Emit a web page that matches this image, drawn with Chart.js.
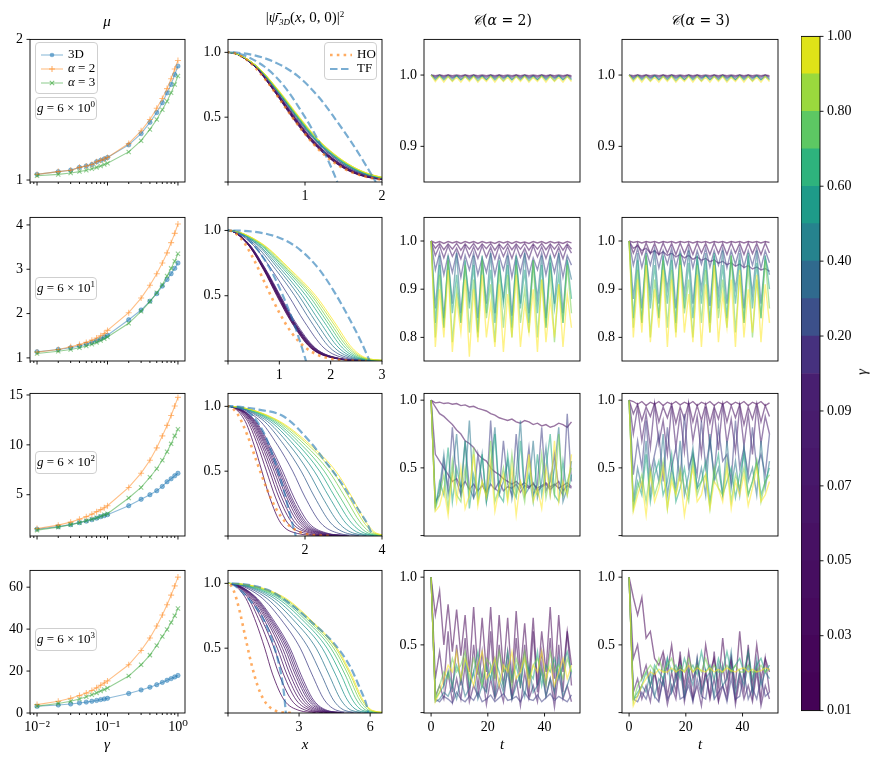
<!DOCTYPE html>
<html>
<head>
<meta charset="utf-8" />
<title>Mu, density profiles and correlations</title>
<script src="https://cdn.jsdelivr.net/npm/chart.js@4.4.0/dist/chart.umd.min.js"></script>
<style>
	body { margin: 0; background: #fff; }
	#fig { position: relative; width: 872px; height: 763px; font-family: 'Liberation Serif', 'DejaVu Serif', serif; color: #000; }
	#fig canvas { position: absolute; }
	.lbl { position: absolute; font-size: 15px; white-space: nowrap; transform: translate(-50%, -50%); z-index: 3; }
	.box { position: absolute; border: 1px solid #cfcfcf; border-radius: 4px; background: rgba(255,255,255,0.85); font-size: 13px; z-index: 3; box-sizing: border-box; }
	.li { position: absolute; left: 4px; height: 14px; line-height: 14px; white-space: nowrap; }
	.li svg { vertical-align: middle; margin-right: 4px; }
	.gbox { text-align: center; line-height: 20px; white-space: nowrap; }
	sup { font-size: 9px; vertical-align: 5px; line-height: 0; }
	sub { font-size: 9px; vertical-align: -3px; line-height: 0; margin-left: 1px; }
</style>
</head>
<body>
<div id="fig"></div>
<script>
// ---- data ----
var gammas = [0.01,0.02,0.03,0.04,0.05,0.06,0.07,0.08,0.09,0.1,0.2,0.3,0.4,0.5,0.6,0.7,0.8,0.9,1.0];

// chemical potential mu(gamma), one array per g row
var mu3D_1 = [1.04,1.06,1.07,1.09,1.10,1.11,1.13,1.14,1.15,1.16,1.25,1.33,1.41,1.48,1.55,1.62,1.68,1.75,1.81];
var muA2_1 = [1.04,1.06,1.07,1.09,1.10,1.11,1.13,1.14,1.15,1.16,1.26,1.35,1.43,1.51,1.58,1.65,1.72,1.79,1.85];
var muA3_1 = [1.03,1.04,1.05,1.06,1.07,1.08,1.09,1.10,1.11,1.12,1.20,1.28,1.36,1.43,1.50,1.56,1.62,1.68,1.74];
var mu3D_2 = [1.14,1.19,1.23,1.27,1.31,1.35,1.39,1.43,1.47,1.51,1.86,2.08,2.28,2.45,2.62,2.77,2.90,3.02,3.14];
var muA2_2 = [1.13,1.19,1.25,1.30,1.35,1.40,1.45,1.50,1.55,1.62,2.02,2.35,2.64,2.90,3.14,3.37,3.60,3.81,4.02];
var muA3_2 = [1.10,1.15,1.19,1.23,1.27,1.31,1.35,1.39,1.43,1.47,1.78,2.05,2.27,2.47,2.65,2.85,3.02,3.18,3.35];
var mu3D_3 = [1.55,1.8,2.0,2.2,2.35,2.5,2.65,2.8,2.9,3.0,3.9,4.54,5.0,5.4,5.83,6.3,6.6,6.9,7.15];
var muA2_3 = [1.6,1.95,2.25,2.55,2.8,3.05,3.3,3.5,3.7,3.9,5.73,7.16,8.45,9.7,10.9,11.95,12.95,13.9,14.76];
var muA3_3 = [1.45,1.75,2.0,2.2,2.4,2.55,2.7,2.85,3.0,3.1,4.67,5.73,6.75,7.6,8.45,9.3,10.1,10.9,11.56];
var mu3D_4 = [3.2,3.8,4.3,4.8,5.2,5.6,6.0,6.4,6.7,7.0,9.3,11.0,12.3,13.5,14.6,15.6,16.4,17.2,17.9];
var muA2_4 = [4.0,5.6,7.0,8.3,9.5,10.7,12.0,13.2,14.3,15.3,23.0,29.8,35.8,41.5,46.7,51.6,56.2,60.6,64.8];
var muA3_4 = [3.3,4.5,5.6,6.7,7.7,8.7,9.6,10.5,11.2,11.9,17.6,23.0,27.6,32.2,36.5,39.8,43.2,46.4,49.8];

// density profiles: x where each curve falls to these levels
var levels = [0.9,0.7,0.5,0.3,0.1,0.02,0.003];
var prof_1 = [
	[0.33,0.60,0.83,1.10,1.52,1.98,2.7],[0.33,0.60,0.84,1.11,1.53,2.00,2.7],[0.33,0.61,0.84,1.11,1.53,2.00,2.7],
	[0.33,0.61,0.85,1.12,1.55,2.02,2.7],[0.33,0.61,0.85,1.12,1.55,2.02,2.7],[0.33,0.61,0.85,1.12,1.55,2.03,2.7],
	[0.34,0.62,0.86,1.13,1.56,2.04,2.7],[0.34,0.62,0.86,1.13,1.56,2.04,2.7],[0.34,0.62,0.86,1.14,1.57,2.05,2.8],
	[0.34,0.62,0.87,1.14,1.58,2.06,2.8],[0.34,0.63,0.88,1.16,1.60,2.09,2.8],[0.35,0.64,0.89,1.17,1.61,2.10,2.8],
	[0.35,0.64,0.90,1.18,1.63,2.12,2.8],[0.35,0.65,0.90,1.18,1.64,2.13,2.8],[0.36,0.65,0.91,1.19,1.65,2.15,2.9],
	[0.36,0.66,0.91,1.20,1.66,2.16,2.9],[0.36,0.66,0.92,1.21,1.67,2.17,2.9],[0.36,0.66,0.92,1.21,1.68,2.18,2.9],
	[0.36,0.67,0.93,1.22,1.68,2.19,2.9]];
var prof_2 = [
	[0.37,0.69,0.95,1.23,1.61,2.08,2.6],[0.37,0.70,0.96,1.24,1.62,2.09,2.6],[0.38,0.70,0.97,1.25,1.63,2.10,2.6],
	[0.38,0.71,0.98,1.26,1.64,2.11,2.6],[0.38,0.71,0.98,1.26,1.65,2.12,2.6],[0.39,0.72,0.99,1.27,1.66,2.13,2.6],
	[0.39,0.72,1.00,1.28,1.67,2.14,2.7],[0.39,0.73,1.00,1.28,1.68,2.15,2.7],[0.40,0.73,1.01,1.29,1.69,2.16,2.7],
	[0.40,0.74,1.02,1.31,1.70,2.17,2.7],[0.46,0.85,1.18,1.49,1.87,2.30,2.8],[0.50,0.93,1.30,1.62,1.99,2.39,2.9],
	[0.54,0.99,1.38,1.71,2.08,2.46,2.9],[0.56,1.04,1.45,1.79,2.16,2.52,3.0],[0.59,1.09,1.52,1.87,2.23,2.57,3.0],
	[0.61,1.13,1.58,1.93,2.29,2.61,3.1],[0.63,1.16,1.63,1.98,2.34,2.65,3.1],[0.65,1.19,1.67,2.03,2.38,2.69,3.2],
	[0.66,1.22,1.71,2.07,2.42,2.72,3.2]];
var prof_3 = [
	[0.42,0.68,0.88,1.08,1.37,1.80,2.4],[0.48,0.77,1.00,1.23,1.55,2.02,2.6],[0.52,0.83,1.08,1.32,1.67,2.16,2.7],
	[0.55,0.88,1.14,1.39,1.75,2.25,2.8],[0.58,0.92,1.20,1.46,1.83,2.33,2.9],[0.60,0.96,1.25,1.52,1.89,2.40,2.95],
	[0.62,0.99,1.29,1.57,1.94,2.45,3.0],[0.64,1.02,1.33,1.61,1.99,2.50,3.05],[0.66,1.05,1.37,1.65,2.04,2.55,3.1],
	[0.68,1.09,1.42,1.71,2.10,2.60,3.15],[0.79,1.29,1.68,2.00,2.41,2.88,3.4],[0.88,1.46,1.90,2.25,2.67,3.10,3.6],
	[0.95,1.60,2.08,2.45,2.88,3.28,3.8],[1.02,1.72,2.24,2.63,3.06,3.43,3.9],[1.08,1.83,2.38,2.78,3.21,3.56,4.0],
	[1.13,1.92,2.50,2.91,3.34,3.66,4.1],[1.18,2.01,2.62,3.04,3.45,3.75,4.2],[1.22,2.09,2.72,3.14,3.54,3.82,4.25],
	[1.25,2.15,2.80,3.22,3.60,3.87,4.3]];
var prof_4 = [
	[0.70,1.18,1.55,1.88,2.37,3.00,3.7],[0.80,1.35,1.78,2.15,2.68,3.30,4.0],[0.87,1.48,1.95,2.34,2.88,3.50,4.2],
	[0.92,1.58,2.08,2.48,3.03,3.64,4.3],[0.97,1.67,2.20,2.61,3.16,3.77,4.5],[1.01,1.74,2.30,2.72,3.27,3.87,4.6],
	[1.05,1.81,2.40,2.83,3.38,3.97,4.7],[1.08,1.87,2.48,2.91,3.46,4.05,4.75],[1.11,1.92,2.55,2.99,3.54,4.12,4.8],
	[1.14,1.98,2.62,3.07,3.61,4.19,4.9],[1.35,2.33,3.05,3.54,4.07,4.60,5.3],[1.52,2.60,3.40,3.93,4.45,4.93,5.6],
	[1.68,2.85,3.72,4.25,4.77,5.22,5.9],[1.82,3.06,3.98,4.53,5.04,5.47,6.1],[1.95,3.24,4.18,4.76,5.26,5.68,6.3],
	[2.06,3.37,4.34,4.93,5.43,5.84,6.5],[2.15,3.47,4.46,5.06,5.56,5.96,6.6],[2.23,3.55,4.55,5.15,5.65,6.05,6.7],
	[2.30,3.60,4.60,5.20,5.70,6.10,6.8]];

// harmonic oscillator and Thomas-Fermi reference curves
var hoX = [-0.5,0,0.25,0.5,0.75,1.0,1.25,1.5,1.75,2.0,2.25,2.5,2.7];
var hoY = [0.78,1,0.94,0.78,0.57,0.37,0.21,0.105,0.047,0.018,0.006,0.002,0.001];
var tfNarrow_1 = [[-0.4,0.92],[0,1],[0.4,0.92],[0.7,0.76],[1.0,0.5],[1.2,0.29],[1.35,0.1],[1.42,0]];
var tfWide_1 = [[-0.5,0.95],[0,1],[0.5,0.95],[0.9,0.82],[1.2,0.64],[1.4,0.48],[1.6,0.31],[1.8,0.12],[1.92,0]];
var tfNarrow_2 = [[-0.4,0.93],[0,1],[0.4,0.93],[0.8,0.72],[1.07,0.5],[1.3,0.27],[1.45,0.09],[1.52,0]];
var tfWide_2 = [[-0.96,0.95],[0,1],[0.96,0.95],[1.41,0.85],[1.78,0.70],[2.07,0.53],[2.37,0.32],[2.59,0.15],[2.76,0]];
var tfNarrow_3 = [[-0.59,0.94],[0,1],[0.59,0.94],[0.94,0.79],[1.2,0.59],[1.46,0.34],[1.63,0.14],[1.76,0]];
var tfWide_3 = [[-1.46,0.92],[0,1],[0.8,0.975],[1.46,0.92],[2.15,0.72],[2.49,0.59],[2.92,0.42],[3.35,0.22],[3.7,0.04],[3.74,0]];
var tfNarrow_4 = [[-0.97,0.86],[0,1],[0.97,0.86],[1.53,0.71],[1.95,0.51],[2.23,0.31],[2.37,0.14],[2.44,0]];
var tfWide_4 = [[-1.67,0.95],[0,1],[1.67,0.95],[2.5,0.86],[3.48,0.71],[4.46,0.54],[5.15,0.36],[5.57,0.19],[5.85,0.06],[5.92,0]];

// correlation C(t)
var tGrid = [0,1.5,3,4.5,6,7.5,9,10.5,12,13.5,15,16.5,18,19.5,21,22.5,24,25.5,27,28.5,30,31.5,33,34.5,36,37.5,39,40.5,42,43.5,45,46.5,48,49.5];
var corrGammaTop = [0.01,0.08,0.3,0.6,1.0];
var corrGamma = [0.01,0.04,0.08,0.2,0.4,0.6,0.8,1.0];
var corr2_1 = [
	[1,.999,1,.999,1,.999,1,.999,1,.999,1,.999,1,.999,1,.999,1,.999,1,.999,1,.999,1,.999,1,.999,1,.999,1,.999,1,.999,1,.999],
	[1,.997,1,.997,1,.997,.999,.997,1,.997,1,.997,.999,.997,1,.997,1,.997,.999,.997,1,.997,1,.997,.999,.997,1,.997,1,.997,.999,.997,1,.997],
	[1,.995,.999,.995,.999,.995,.999,.994,.999,.995,.999,.995,.999,.994,.999,.995,.999,.995,.999,.994,.999,.995,.999,.995,.999,.994,.999,.995,.999,.995,.999,.994,.999,.995],
	[1,.993,.999,.993,.998,.992,.999,.993,.998,.993,.999,.992,.998,.993,.999,.993,.998,.992,.999,.993,.998,.993,.999,.992,.998,.993,.999,.993,.998,.992,.999,.993,.998,.993],
	[1,.991,.998,.990,.998,.991,.997,.990,.998,.991,.998,.990,.997,.991,.998,.990,.998,.991,.997,.990,.998,.991,.998,.990,.997,.991,.998,.990,.998,.991,.997,.990,.998,.991]];
var corr3_1 = corr2_1;
var corr2_2 = [
	[1,.996,.999,.995,.999,.996,.999,.995,.999,.996,.999,.995,.999,.996,.998,.995,.999,.996,.999,.995,.999,.996,.998,.995,.999,.996,.999,.995,.999,.996,.998,.995,.999,.996],
	[1,.985,.995,.982,.994,.983,.995,.981,.994,.983,.995,.982,.994,.984,.995,.981,.994,.983,.995,.982,.994,.983,.995,.981,.994,.983,.995,.982,.994,.983,.995,.981,.994,.983],
	[1,.97,.99,.965,.99,.968,.985,.963,.99,.967,.988,.964,.99,.966,.987,.963,.99,.968,.988,.964,.99,.966,.985,.963,.99,.967,.988,.964,.99,.966,.987,.963,.99,.975],
	[1,.94,.975,.93,.97,.935,.975,.925,.97,.94,.975,.93,.965,.935,.975,.93,.97,.94,.975,.925,.97,.935,.975,.93,.965,.94,.975,.93,.97,.935,.975,.925,.97,.95],
	[1,.86,.97,.84,.96,.87,.975,.85,.95,.88,.97,.84,.96,.87,.975,.85,.95,.88,.97,.845,.96,.87,.975,.85,.96,.88,.97,.84,.955,.87,.975,.85,.96,.92],
	[1,.83,.95,.82,.97,.85,.93,.83,.96,.86,.95,.81,.97,.85,.94,.83,.96,.87,.95,.82,.97,.86,.94,.83,.96,.85,.95,.82,.97,.86,.93,.83,.96,.88],
	[1,.8,.93,.82,.96,.79,.9,.83,.95,.81,.92,.8,.96,.84,.91,.79,.94,.82,.93,.8,.95,.83,.9,.81,.96,.8,.92,.82,.94,.79,.91,.83,.95,.85],
	[1,.78,.9,.8,.94,.77,.88,.81,.92,.76,.9,.79,.93,.8,.87,.78,.91,.77,.89,.8,.93,.78,.87,.81,.9,.77,.92,.79,.88,.8,.91,.78,.89,.82]];
var corr3_2 = [
	[1,.997,.999,.996,.999,.997,.999,.996,.999,.997,.999,.996,.999,.997,.999,.996,.999,.997,.999,.996,.999,.997,.999,.996,.999,.997,.999,.996,.999,.997,.999,.996,.999,.997],
	[1,.975,.995,.972,.996,.974,.995,.972,.996,.975,.995,.972,.996,.974,.995,.972,.996,.975,.995,.972,.996,.974,.995,.972,.996,.975,.995,.972,.996,.974,.995,.972,.996,.975],
	[1,.985,.99,.98,.985,.975,.98,.972,.978,.97,.975,.967,.972,.965,.97,.962,.967,.96,.964,.957,.961,.954,.958,.951,.955,.948,.952,.945,.949,.942,.946,.94,.943,.937],
	[1,.95,.985,.945,.98,.95,.985,.944,.98,.952,.985,.946,.98,.95,.985,.944,.98,.952,.985,.946,.98,.95,.985,.944,.98,.952,.985,.946,.98,.95,.985,.944,.98,.955],
	[1,.88,.975,.86,.97,.89,.98,.87,.965,.9,.975,.86,.97,.89,.98,.87,.965,.9,.975,.865,.97,.89,.98,.87,.965,.9,.975,.86,.97,.89,.98,.87,.965,.93],
	[1,.84,.96,.83,.975,.86,.95,.84,.97,.87,.96,.83,.975,.86,.955,.84,.97,.87,.96,.83,.975,.86,.95,.84,.97,.87,.96,.83,.975,.86,.955,.84,.97,.9],
	[1,.82,.94,.83,.97,.8,.92,.84,.96,.82,.94,.81,.97,.85,.92,.8,.95,.83,.94,.81,.96,.84,.92,.82,.97,.81,.93,.83,.95,.8,.92,.84,.96,.86],
	[1,.8,.92,.81,.95,.79,.9,.82,.94,.78,.92,.8,.95,.81,.89,.79,.93,.78,.91,.81,.95,.79,.89,.82,.92,.78,.94,.8,.9,.81,.93,.79,.91,.83]];
var corr2_3 = [
	[1,.98,.985,.975,.98,.97,.975,.96,.965,.95,.955,.94,.93,.92,.9,.89,.87,.86,.85,.86,.84,.83,.85,.84,.82,.83,.81,.82,.8,.81,.83,.82,.8,.84],
	[1,.95,.9,.88,.85,.82,.78,.75,.7,.68,.65,.6,.57,.55,.5,.47,.45,.42,.4,.38,.4,.37,.39,.36,.38,.35,.37,.39,.36,.38,.35,.37,.39,.36],
	[1,.6,.55,.5,.45,.4,.42,.36,.4,.34,.38,.33,.37,.32,.38,.34,.4,.33,.36,.35,.38,.32,.37,.35,.39,.33,.36,.38,.34,.37,.4,.33,.37,.35],
	[1,.25,.3,.55,.35,.8,.4,.3,.7,.35,.28,.6,.4,.3,.85,.35,.32,.7,.38,.3,.75,.35,.4,.65,.3,.38,.8,.33,.4,.6,.35,.3,.9,.4],
	[1,.22,.35,.6,.3,.45,.75,.3,.4,.85,.28,.35,.6,.25,.5,.8,.3,.4,.55,.27,.45,.85,.3,.35,.7,.28,.4,.65,.3,.5,.8,.25,.35,.55],
	[1,.2,.4,.3,.65,.25,.5,.35,.7,.2,.45,.3,.6,.25,.4,.75,.3,.25,.6,.35,.28,.7,.3,.45,.25,.6,.3,.5,.75,.3,.25,.55,.3,.45],
	[1,.2,.3,.45,.2,.55,.3,.25,.5,.3,.65,.25,.4,.3,.7,.25,.35,.5,.28,.6,.3,.4,.25,.55,.35,.3,.6,.28,.45,.3,.75,.3,.4,.5],
	[1,.18,.22,.35,.15,.45,.25,.5,.2,.3,.6,.22,.4,.28,.55,.18,.35,.45,.25,.5,.15,.4,.3,.6,.25,.35,.2,.5,.3,.7,.25,.4,.3,.6]];
var corr3_3 = [
	[1,.99,.97,.99,.96,.985,.97,.99,.96,.985,.97,.99,.965,.985,.97,.99,.96,.985,.97,.99,.96,.985,.97,.99,.965,.985,.97,.99,.96,.985,.97,.99,.96,.98],
	[1,.9,.97,.85,.95,.88,.98,.84,.95,.87,.97,.83,.95,.86,.98,.84,.96,.85,.97,.83,.95,.86,.98,.84,.96,.87,.97,.82,.95,.86,.98,.84,.96,.88],
	[1,.75,.95,.7,.9,.65,.97,.68,.85,.6,.96,.65,.9,.62,.97,.7,.88,.6,.95,.66,.92,.63,.97,.68,.86,.62,.95,.66,.9,.6,.96,.68,.88,.75],
	[1,.45,.7,.5,.85,.45,.6,.75,.4,.8,.5,.65,.4,.9,.5,.6,.45,.85,.5,.7,.45,.8,.55,.6,.4,.85,.5,.65,.45,.8,.5,.6,.45,.75],
	[1,.25,.5,.35,.7,.3,.55,.4,.75,.3,.5,.35,.7,.3,.45,.65,.35,.5,.3,.75,.4,.5,.3,.7,.35,.55,.3,.65,.4,.5,.3,.7,.35,.55],
	[1,.22,.4,.3,.6,.25,.45,.55,.3,.4,.6,.25,.35,.5,.3,.6,.35,.4,.55,.25,.45,.6,.3,.4,.5,.28,.45,.6,.3,.4,.55,.3,.4,.5],
	[1,.2,.35,.45,.25,.5,.3,.4,.55,.2,.45,.3,.5,.35,.25,.55,.3,.4,.45,.2,.5,.35,.3,.55,.25,.45,.35,.5,.3,.4,.55,.25,.4,.45],
	[1,.18,.3,.4,.15,.45,.25,.35,.5,.2,.4,.3,.45,.15,.35,.5,.25,.3,.45,.2,.4,.35,.25,.5,.2,.4,.3,.45,.22,.35,.5,.25,.3,.4]];
var corr2_4 = [
	[1,.72,.9,.5,.8,.45,.76,.42,.72,.3,.78,.28,.7,.3,.78,.25,.72,.3,.7,.22,.75,.3,.66,.25,.7,.2,.6,.3,.78,.25,.72,.3,.6,.35],
	[1,.25,.45,.2,.6,.15,.5,.2,.55,.12,.5,.18,.45,.15,.6,.12,.5,.2,.45,.1,.55,.18,.5,.12,.6,.15,.45,.2,.55,.1,.5,.15,.6,.2],
	[1,.12,.2,.1,.3,.08,.25,.1,.35,.08,.2,.12,.3,.06,.25,.1,.2,.08,.35,.1,.25,.05,.3,.1,.2,.08,.35,.12,.25,.04,.3,.1,.2,.08],
	[1,.1,.08,.12,.1,.07,.15,.1,.08,.12,.09,.15,.08,.1,.13,.08,.11,.14,.09,.1,.12,.08,.15,.1,.09,.13,.08,.11,.14,.09,.12,.1,.08,.13],
	[1,.08,.1,.15,.12,.2,.1,.25,.12,.18,.3,.1,.2,.15,.35,.12,.25,.15,.3,.1,.2,.28,.12,.35,.15,.2,.3,.12,.25,.15,.4,.12,.2,.3],
	[1,.1,.15,.2,.3,.2,.35,.25,.4,.2,.3,.45,.2,.35,.25,.4,.3,.2,.45,.25,.35,.2,.4,.3,.25,.45,.2,.35,.3,.4,.25,.35,.45,.3],
	[1,.1,.2,.3,.25,.4,.3,.35,.45,.25,.4,.3,.2,.4,.35,.25,.45,.3,.35,.2,.4,.3,.45,.25,.35,.4,.3,.2,.45,.3,.35,.25,.4,.3],
	[1,.08,.15,.25,.35,.3,.45,.25,.4,.3,.2,.35,.45,.25,.3,.4,.2,.35,.3,.45,.25,.3,.4,.2,.35,.3,.45,.25,.35,.2,.3,.4,.25,.35]];
var corr3_4 = [
	[1,.85,.72,.85,.55,.6,.4,.35,.45,.3,.5,.25,.4,.2,.45,.25,.35,.2,.5,.3,.4,.2,.55,.25,.4,.2,.6,.25,.45,.2,.5,.25,.4,.3],
	[1,.4,.5,.25,.35,.2,.3,.15,.4,.12,.3,.15,.45,.12,.35,.1,.4,.15,.3,.12,.45,.1,.35,.15,.4,.1,.3,.15,.5,.12,.35,.1,.4,.15],
	[1,.15,.25,.1,.2,.08,.3,.1,.25,.06,.2,.1,.35,.08,.25,.1,.2,.05,.3,.1,.25,.08,.2,.1,.35,.06,.25,.1,.2,.08,.3,.05,.2,.1],
	[1,.1,.08,.15,.1,.2,.12,.08,.25,.1,.15,.3,.1,.12,.2,.08,.25,.12,.1,.3,.1,.15,.2,.08,.25,.1,.12,.3,.1,.18,.1,.25,.12,.15],
	[1,.1,.12,.2,.15,.3,.12,.25,.2,.4,.15,.25,.35,.12,.3,.2,.4,.15,.25,.3,.12,.35,.2,.25,.45,.15,.3,.2,.35,.15,.4,.2,.3,.25],
	[1,.1,.15,.2,.3,.2,.35,.3,.25,.4,.3,.35,.25,.4,.3,.35,.28,.45,.3,.35,.25,.4,.3,.45,.3,.35,.4,.3,.45,.25,.35,.4,.3,.35],
	[1,.08,.2,.25,.3,.35,.3,.4,.3,.35,.4,.3,.35,.3,.4,.3,.35,.3,.4,.3,.35,.3,.3,.35,.3,.35,.3,.3,.35,.3,.3,.35,.3,.32],
	[1,.05,.12,.2,.25,.3,.28,.32,.3,.3,.33,.3,.32,.3,.35,.3,.33,.31,.3,.33,.3,.32,.3,.33,.31,.3,.32,.33,.3,.32,.3,.31,.33,.32]];

// tick values and labels
var logTicks = [0.008,0.009,0.01,0.02,0.03,0.04,0.05,0.06,0.07,0.08,0.09,0.1,0.2,0.3,0.4,0.5,0.6,0.7,0.8,0.9,1];
var logLabels = ['','','10\u207B\u00B2','','','','','','','','','10\u207B\u00B9','','','','','','','','','10\u2070'];
var cbTickLabels = ['0.01','0.03','0.05','0.07','0.09','0.20','0.40','0.60','0.80','1.00'];

// ---- layout and style ----
var COLS = [30, 228, 424, 622], COLW = [155, 154, 156, 156];
var ROWS = [34, 212, 388, 565], ROWH = [148, 149, 148, 148];
var FONT = { family: "'Liberation Serif','DejaVu Serif',serif", size: 14 };
var VIRIDIS = ['#440154','#471365','#482475','#463480','#414487','#3b528b','#355f8d','#2f6c8e','#2a788e','#25848e',
	'#21918c','#1e9c89','#22a884','#2fb47c','#44bf70','#5ec962','#7ad151','#9bd93c','#bddf26','#dfe318','#fde725'];

function viridis(t, a) {
	t = Math.max(0, Math.min(1, t));
	var p = t * 20, i = Math.min(19, Math.floor(p)), f = p - i;
	var c0 = VIRIDIS[i], c1 = VIRIDIS[i + 1], rgb = [];
	for (var k = 0; k < 3; k++) {
		var v0 = parseInt(c0.substr(1 + 2 * k, 2), 16), v1 = parseInt(c1.substr(1 + 2 * k, 2), 16);
		rgb.push(Math.round(v0 + (v1 - v0) * f));
	}
	return 'rgba(' + rgb.join(',') + ',' + a + ')';
}
function gNorm(g) { return (g - 0.01) / 0.99; }

Chart.defaults.font.family = FONT.family;

// frame around the axes and outward tick marks, like matplotlib spines
var framePlugin = {
	id: 'frame',
	afterDraw: function(chart, args, opts) {
		var ctx = chart.ctx, a = chart.chartArea;
		ctx.save();
		ctx.strokeStyle = '#000';
		ctx.lineWidth = 0.9;
		ctx.strokeRect(a.left, a.top, a.right - a.left, a.bottom - a.top);
		['x', 'y'].forEach(function(id) {
			var s = chart.scales[id];
			if (!s || s.options.display === false) return;
			if (id === 'x' && opts.noX) return;
			s.ticks.forEach(function(t) {
				var minor = false;
				if (opts.logX && id === 'x') {
					var l = Math.log10(t.value);
					minor = Math.abs(l - Math.round(l)) > 1e-6;
				}
				var len = minor ? 2 : 3.5;
				var p = s.getPixelForValue(t.value);
				ctx.beginPath();
				if (id === 'x') { ctx.moveTo(p, a.bottom); ctx.lineTo(p, a.bottom + len); }
				else if (s.position === 'right') { ctx.moveTo(a.right, p); ctx.lineTo(a.right + len, p); }
				else { ctx.moveTo(a.left, p); ctx.lineTo(a.left - len, p); }
				ctx.stroke();
			});
		});
		ctx.restore();
	}
};
Chart.register(framePlugin);

function axis(type, min, max, ticks, labels, isX) {
	return {
		type: type, min: min, max: max,
		grid: { display: false, drawTicks: false },
		border: { display: false },
		afterBuildTicks: function(s) { s.ticks = ticks.map(function(v) { return { value: v }; }); },
		afterFit: function(s) { if (isX) s.height = 30; else s.width = 40; },
		ticks: {
			autoSkip: false, maxRotation: 0, minRotation: 0, padding: isX ? 6 : 7,
			color: '#000', font: FONT,
			callback: function(v, i) { return labels ? (labels[i] || '') : ''; }
		}
	};
}

function options(x, y, frame) {
	return {
		responsive: false, animation: false, events: [],
		layout: { padding: { left: 0, top: 10, right: 10, bottom: 0 } },
		plugins: { legend: { display: false }, tooltip: { enabled: false }, frame: frame || {} },
		scales: { x: x, y: y },
		elements: { point: { radius: 0 } }
	};
}

var fig = document.getElementById('fig');
function panel(c, r, config) {
	var cv = document.createElement('canvas');
	cv.width = COLW[c] + 50;
	cv.height = ROWH[r] + 40;
	cv.style.left = (COLS[c] - 40) + 'px';
	cv.style.top = (ROWS[r] - 10) + 'px';
	fig.appendChild(cv);
	return new Chart(cv, config);
}

// ---- column 1: mu ----
var muRows = [
	{ d3: mu3D_1, a2: muA2_1, a3: muA3_1, min: 0.986, max: 2.0, ticks: [1, 2], labels: ['1', '2'] },
	{ d3: mu3D_2, a2: muA2_2, a3: muA3_2, min: 0.93, max: 4.17, ticks: [1, 2, 3, 4], labels: ['1', '2', '3', '4'] },
	{ d3: mu3D_3, a2: muA2_3, a3: muA3_3, min: 0.86, max: 15.16, ticks: [5, 10, 15], labels: ['5', '10', '15'] },
	{ d3: mu3D_4, a2: muA2_4, a3: muA3_4, min: 0, max: 68, ticks: [0, 20, 40, 60], labels: ['0', '20', '40', '60'] }
];
function pts(xs, ys) { return xs.map(function(x, i) { return { x: x, y: ys[i] }; }); }

muRows.forEach(function(m, r) {
	var ds = [
		{ data: pts(gammas, m.a3), borderColor: 'rgba(44,160,44,0.5)', backgroundColor: 'rgba(44,160,44,0.5)',
		  borderWidth: 1.1, pointStyle: 'crossRot', pointRadius: 3, pointBorderWidth: 1.1 },
		{ data: pts(gammas, m.a2), borderColor: 'rgba(255,127,14,0.5)', backgroundColor: 'rgba(255,127,14,0.5)',
		  borderWidth: 1.1, pointStyle: 'cross', pointRadius: 3, pointBorderWidth: 1.1 },
		{ data: pts(gammas, m.d3), borderColor: 'rgba(31,119,180,0.5)', backgroundColor: 'rgba(31,119,180,0.5)',
		  borderWidth: 1.1, pointStyle: 'circle', pointRadius: 2.2, pointBorderWidth: 0.8 }
	];
	panel(0, r, {
		type: 'line',
		data: { datasets: ds },
		options: options(
			axis('logarithmic', Math.pow(10, -2.1), Math.pow(10, 0.1), logTicks, r === 3 ? logLabels : null, true),
			axis('linear', m.min, m.max, m.ticks, m.labels, false),
			{ logX: true })
	});
});

// ---- column 2: density profiles ----
var profRows = [
	{ prof: prof_1, nar: tfNarrow_1, wide: tfWide_1, max: 2, ticks: [0, 1, 2], labels: ['', '1', '2'] },
	{ prof: prof_2, nar: tfNarrow_2, wide: tfWide_2, max: 3, ticks: [0, 1, 2, 3], labels: ['', '1', '2', '3'] },
	{ prof: prof_3, nar: tfNarrow_3, wide: tfWide_3, max: 4, ticks: [0, 2, 4], labels: ['', '2', '4'] },
	{ prof: prof_4, nar: tfNarrow_4, wide: tfWide_4, max: 6.5, ticks: [0, 3, 6], labels: ['', '3', '6'] }
];
function profilePoints(row) {
	var p = [{ x: -row[0], y: levels[0] }, { x: 0, y: 1 }];
	row.forEach(function(x, k) { p.push({ x: x, y: levels[k] }); });
	return p;
}
function pairPoints(arr) { return arr.map(function(p) { return { x: p[0], y: p[1] }; }); }

profRows.forEach(function(pr, r) {
	var ds = [
		{ data: pts(hoX, hoY), borderColor: 'rgba(255,127,14,0.65)', borderWidth: 2.6, borderDash: [2.6, 4.2],
		  cubicInterpolationMode: 'monotone' },
		{ data: pairPoints(pr.nar), borderColor: 'rgba(31,119,180,0.6)', borderWidth: 2.2, borderDash: [7.5, 3.5],
		  cubicInterpolationMode: 'monotone' },
		{ data: pairPoints(pr.wide), borderColor: 'rgba(31,119,180,0.6)', borderWidth: 2.2, borderDash: [7.5, 3.5],
		  cubicInterpolationMode: 'monotone' }
	];
	for (var i = gammas.length - 1; i >= 0; i--) {
		ds.push({ data: profilePoints(pr.prof[i]), borderColor: viridis(gNorm(gammas[i]), 0.85), borderWidth: 0.9,
			cubicInterpolationMode: 'monotone' });
	}
	panel(1, r, {
		type: 'line',
		data: { datasets: ds },
		options: options(
			axis('linear', 0, pr.max, pr.ticks, pr.labels, true),
			axis('linear', 0, 1.1, [0, 0.5, 1], ['', '0.5', '1.0'], false))
	});
});

// ---- columns 3 and 4: correlation ----
var corrYAxes = [
	{ min: 0.85, max: 1.05, ticks: [0.9, 1.0], labels: ['0.9', '1.0'] },
	{ min: 0.751, max: 1.049, ticks: [0.8, 0.9, 1.0], labels: ['0.8', '0.9', '1.0'] },
	{ min: -0.003, max: 1.05, ticks: [0, 0.5, 1.0], labels: ['', '0.5', '1.0'] },
	{ min: -0.003, max: 1.05, ticks: [0, 0.5, 1.0], labels: ['', '0.5', '1.0'] }
];
var corrPanels = [
	[corr2_1, corr2_2, corr2_3, corr2_4],
	[corr3_1, corr3_2, corr3_3, corr3_4]
];
corrPanels.forEach(function(colData, ci) {
	colData.forEach(function(series, r) {
		var gs = r === 0 ? corrGammaTop : corrGamma;
		var ds = [];
		for (var i = series.length - 1; i >= 0; i--) {
			var d = series[i].map(function(v, k) { return { x: tGrid[k], y: v }; })
				.filter(function(p) { return p.x !== undefined; });
			ds.push({ data: d, borderColor: viridis(gNorm(gs[i]), 0.55), borderWidth: 1.4 });
		}
		var yA = corrYAxes[r];
		panel(2 + ci, r, {
			type: 'line',
			data: { datasets: ds },
			options: options(
				axis('linear', -2.5, 52.5, [0, 20, 40], r === 3 ? ['0', '20', '40'] : null, true),
				axis('linear', yA.min, yA.max, yA.ticks, yA.labels, false),
				{ noX: r !== 3 })
		});
	});
});

// ---- colorbar ----
(function() {
	var cv = document.createElement('canvas');
	cv.width = 69; cv.height = 705;
	cv.style.left = '801px'; cv.style.top = '21px';
	fig.appendChild(cv);
	var ds = [];
	for (var k = 0; k < gammas.length - 1; k++) {
		var mid = (gammas[k] + gammas[k + 1]) / 2;
		ds.push({ data: [1], backgroundColor: viridis(gNorm(mid), 1), borderWidth: 0,
			barPercentage: 1, categoryPercentage: 1 });
	}
	var cbTicks = [0, 2, 4, 6, 8, 10, 12, 14, 16, 18];
	var y = axis('linear', 0, 18, cbTicks, cbTickLabels, false);
	y.position = 'right';
	y.stacked = true;
	y.afterFit = function(s) { s.width = 50; };
	new Chart(cv, {
		type: 'bar',
		data: { labels: [''], datasets: ds },
		options: {
			responsive: false, animation: false, events: [],
			layout: { padding: { left: 0, top: 10, right: 0, bottom: 10 } },
			plugins: { legend: { display: false }, tooltip: { enabled: false }, frame: {} },
			scales: { x: { type: 'category', display: false, stacked: true }, y: y }
		}
	});
})();

// ---- text overlays ----
function label(html, x, y, extra) {
	var d = document.createElement('div');
	d.className = 'lbl';
	d.style.left = x + 'px';
	d.style.top = y + 'px';
	if (extra) d.style.cssText += extra;
	d.innerHTML = html;
	fig.appendChild(d);
}
label('<i>\u03BC</i>', 107, 21);
label('|<i>\u03C8\u0304</i><sub><i>3D</i></sub>(<i>x</i>, 0, 0)|<sup>2</sup>', 305, 17);
label('<i>\uD835\uDC9E</i>(<i>\u03B1</i> = 2)', 502, 20, 'font-family:"DejaVu Serif","Liberation Serif",serif;font-size:14px;');
label('<i>\uD835\uDC9E</i>(<i>\u03B1</i> = 3)', 700, 20, 'font-family:"DejaVu Serif","Liberation Serif",serif;font-size:14px;');
label('<i>\u03B3</i>', 107, 744);
label('<i>x</i>', 305, 744);
label('<i>t</i>', 502, 744);
label('<i>t</i>', 700, 744);
label('<i>\u03B3</i>', 862, 372, 'transform:translate(-50%,-50%) rotate(-90deg);');

var gBoxTop = [97, 277, 451, 628];
var gExp = ['0', '1', '2', '3'];
gBoxTop.forEach(function(top, r) {
	var b = document.createElement('div');
	b.className = 'box gbox';
	b.style.cssText = 'left:35px;top:' + top + 'px;width:62px;height:23px;';
	b.innerHTML = '<i>g</i> = 6 \u00D7 10<sup>' + gExp[r] + '</sup>';
	fig.appendChild(b);
});

function legendBox(left, top, w, h, items) {
	var b = document.createElement('div');
	b.className = 'box';
	b.style.cssText = 'left:' + left + 'px;top:' + top + 'px;width:' + w + 'px;height:' + h + 'px;';
	items.forEach(function(it, i) {
		var row = document.createElement('div');
		row.className = 'li';
		row.style.top = (4 + i * 14) + 'px';
		row.innerHTML = '<svg width="24" height="12">' + it.svg + '</svg>' + it.text;
		b.appendChild(row);
	});
	fig.appendChild(b);
}
legendBox(35, 42, 63, 52, [
	{ text: '3D', svg: '<line x1="1" y1="6" x2="23" y2="6" stroke="rgba(31,119,180,0.5)" stroke-width="1.1"/><circle cx="12" cy="6" r="2.3" fill="rgba(31,119,180,0.55)"/>' },
	{ text: '<i>\u03B1</i> = 2', svg: '<line x1="1" y1="6" x2="23" y2="6" stroke="rgba(255,127,14,0.5)" stroke-width="1.1"/><path d="M9 6H15M12 3V9" stroke="rgba(255,127,14,0.6)" stroke-width="1.1"/>' },
	{ text: '<i>\u03B1</i> = 3', svg: '<line x1="1" y1="6" x2="23" y2="6" stroke="rgba(44,160,44,0.5)" stroke-width="1.1"/><path d="M9.8 3.8L14.2 8.2M14.2 3.8L9.8 8.2" stroke="rgba(44,160,44,0.6)" stroke-width="1.1"/>' }
]);
legendBox(324, 42, 53, 38, [
	{ text: 'HO', svg: '<line x1="1" y1="6" x2="23" y2="6" stroke="rgba(255,127,14,0.65)" stroke-width="2.6" stroke-dasharray="2.6 4.2"/>' },
	{ text: 'TF', svg: '<line x1="1" y1="6" x2="23" y2="6" stroke="rgba(31,119,180,0.6)" stroke-width="2.2" stroke-dasharray="7.5 3.5"/>' }
]);
</script>
</body>
</html>
